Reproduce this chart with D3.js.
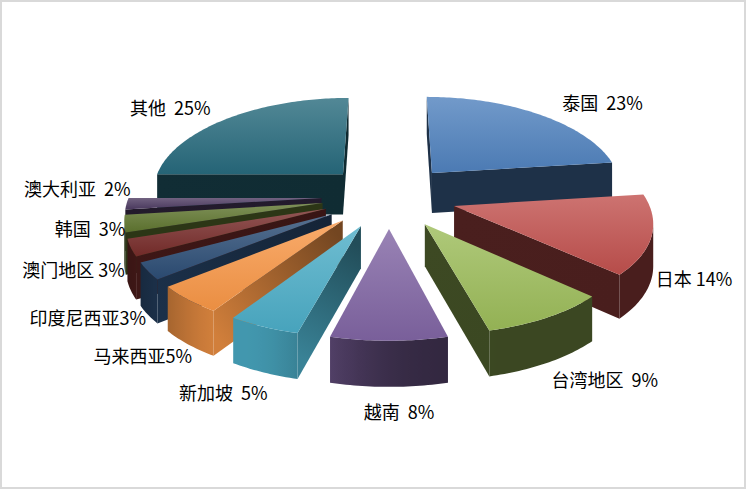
<!DOCTYPE html>
<html>
<head>
<meta charset="utf-8">
<script src="https://cdn.jsdelivr.net/npm/d3@7"></script>
<style>
  html, body { margin: 0; padding: 0; background: #fff; }
  text { font-family: "Noto Sans CJK SC", "Noto Sans", sans-serif; }
</style>
</head>
<body>
<div id="chart"></div>
<script>
const categories = ["泰国", "日本", "台湾地区", "越南", "新加坡", "马来西亚", "印度尼西亚", "澳门地区", "韩国", "澳大利亚", "其他"]
const values = [23, 14, 9, 8, 5, 5, 3, 3, 3, 2, 25]
const labels = ["泰国  23%", "日本 14%", "台湾地区  9%", "越南  8%", "新加坡  5%", "马来西亚5%", "印度尼西亚3%", "澳门地区 3%", "韩国  3%", "澳大利亚  2%", "其他  25%"]
const colors = ["#4F81BD", "#C0504D", "#9BBB59", "#8064A2", "#4BACC6", "#F79646", "#2C4D75", "#772C2A", "#5F7530", "#4D3B62", "#276A7C"]

const width = 746
const height = 489

const svg = d3.select("#chart").append("svg").attr("width", width).attr("height", height)
const defs = svg.append("defs")

// chart border
svg.append("rect")
  .attr("x", 1).attr("y", 1).attr("width", width - 2).attr("height", height - 2)
  .attr("fill", "#fff").attr("stroke", "#d9d9d9").attr("stroke-width", 2)

// pseudo perspective camera (pie lies flat, z towards the viewer)
const cx = 389, cy = 196
const R = 1, explode = 0.35
const thick = 40.9
const fx = 1347, dx = 7.0, fy = 766.5, dy = 8.5, dh = 11.87

function project(X, Z, down) {
  return [cx + fx * X / (dx - Z), cy + fy * Z / (dy - Z) + down * thick * dh / (dh - Z)]
}

const pie = d3.pie().sort(null).value((d) => d)
const arcs = pie(values)
arcs.forEach((a, i) => {
  a.i = i
  a.mid = (a.startAngle + a.endAngle) / 2
  a.ox = explode * Math.sin(a.mid)
  a.oz = -explode * Math.cos(a.mid)
})

// point of a slice at angle / radius, down = 0 top, 1 bottom
function pt(a, ang, r, down) {
  return project(a.ox + r * Math.sin(ang), a.oz - r * Math.cos(ang), down)
}

function area(p) {
  let s = 0
  for (let i = 0; i < p.length; i++) {
    const q = p[(i + 1) % p.length]
    s += p[i][0] * q[1] - q[0] * p[i][1]
  }
  return s
}

// side faces get lighter towards the front left
function shade(base, p) {
  const d2 = (p[0] - 240) ** 2 + (p[1] - 345) ** 2
  const k = 0.38 + 0.5 * Math.exp(-d2 / (110 * 110))
  const c = d3.rgb(base)
  return d3.rgb(c.r * k, c.g * k, c.b * k).formatHex()
}

const line = d3.line().curve(d3.curveLinearClosed)
const mean = (pts) => [d3.mean(pts, (p) => p[0]), d3.mean(pts, (p) => p[1])]

// back to front
const order = arcs.slice().sort((a, b) => {
  const za = a.oz - 0.5 * Math.cos(a.mid)
  const zb = b.oz - 0.5 * Math.cos(b.mid)
  return za - zb
})

const pieG = svg.append("g")
const step = Math.PI / 180
const hulls = []

order.forEach((a) => {
  const base = colors[a.i]
  const g = pieG.append("g")
  const n = Math.max(2, Math.ceil((a.endAngle - a.startAngle) / step))
  const angs = d3.range(n + 1).map((j) => a.startAngle + (a.endAngle - a.startAngle) * j / n)
  const topPts = angs.map((t) => pt(a, t, R, 0))
  const botPts = angs.map((t) => pt(a, t, R, 1))

  hulls.push(d3.polygonHull(topPts.concat(botPts, [pt(a, 0, 0, 0), pt(a, 0, 0, 1)])))

  // radial faces
  const sFace = [pt(a, a.startAngle, 0, 0), pt(a, a.startAngle, R, 0), pt(a, a.startAngle, R, 1), pt(a, a.startAngle, 0, 1)]
  const eFace = [pt(a, a.endAngle, 0, 0), pt(a, a.endAngle, 0, 1), pt(a, a.endAngle, R, 1), pt(a, a.endAngle, R, 0)]
  ;[sFace, eFace].forEach((f, k) => {
    if (area(f) >= 0) return
    const inner = mean([f[0], k === 0 ? f[3] : f[1]])
    const outer = mean([f[k === 0 ? 1 : 2], f[k === 0 ? 2 : 3]])
    const id = `rf${a.i}_${k}`
    const grad = defs.append("linearGradient").attr("id", id)
      .attr("gradientUnits", "userSpaceOnUse")
      .attr("x1", inner[0]).attr("y1", inner[1]).attr("x2", outer[0]).attr("y2", outer[1])
    grad.append("stop").attr("offset", 0).attr("stop-color", shade(base, inner))
    grad.append("stop").attr("offset", 1).attr("stop-color", shade(base, outer))
    g.append("path").attr("d", line(f)).attr("fill", `url(#${id})`)
  })

  // outer wall: the run of strips facing the camera
  const vis = d3.range(n).filter((j) => area([topPts[j], topPts[j + 1], botPts[j + 1], botPts[j]]) < 0)
  if (vis.length) {
    const j0 = d3.min(vis), j1 = d3.max(vis) + 1
    const wall = topPts.slice(j0, j1 + 1).concat(botPts.slice(j0, j1 + 1).reverse())
    const xa = topPts[j0][0], xb = topPts[j1][0]
    const id = `wall${a.i}`
    const grad = defs.append("linearGradient").attr("id", id)
      .attr("gradientUnits", "userSpaceOnUse")
      .attr("x1", xa).attr("y1", 0).attr("x2", Math.abs(xb - xa) < 1 ? xa + 1 : xb).attr("y2", 0)
    for (let j = j0; j <= j1; j++) {
      const off = Math.abs(xb - xa) < 1 ? 0 : Math.max(0, Math.min(1, (topPts[j][0] - xa) / (xb - xa)))
      grad.append("stop").attr("offset", off)
        .attr("stop-color", shade(base, mean([topPts[j], botPts[j]])))
    }
    g.append("path").attr("d", line(wall)).attr("fill", `url(#${id})`)
  }

  // top face
  const top = [pt(a, a.startAngle, 0, 0)].concat(topPts)
  const tid = `top${a.i}`
  const tg = defs.append("linearGradient").attr("id", tid)
    .attr("x1", 0).attr("y1", 0).attr("x2", 0).attr("y2", 1)
  tg.append("stop").attr("offset", 0).attr("stop-color", d3.interpolateRgb(base, "#fff")(0.2))
  tg.append("stop").attr("offset", 1).attr("stop-color", d3.rgb(base).darker(0.15))
  g.append("path").attr("d", line(top)).attr("fill", `url(#${tid})`)
})

// data labels
const labelData = arcs.map((a) => {
  const c = Math.cos(a.mid)
  const isLeft = Math.sin(a.mid) < 0
  let p
  if (c < 0) {
    const down = isLeft ? Math.min(1, 3 * c * c) : 1
    p = pt(a, a.mid, R, down)
    p[1] += 26 * Math.pow(-c, 2.5)
  } else {
    p = pt(a, a.mid, R + 0.2, 0)
  }
  let anchor = "middle"
  if (p[0] > cx + 25) anchor = "start"
  else if (p[0] < cx - 25) anchor = "end"
  return { text: labels[a.i], x: p[0] + (anchor === "middle" ? 10 : 4), y: p[1], anchor }
})

const labelG = svg.append("g")
const texts = labelG.selectAll("text").data(labelData).enter().append("text")
  .attr("dy", "0.35em")
  .attr("text-anchor", (d) => d.anchor)
  .attr("font-size", 18)
  .attr("fill", "#000")
  .style("white-space", "pre")
  .text((d) => d.text)
texts.each(function (d) { d.w = this.getComputedTextLength() })

function box(d, x, y) {
  const x0 = d.anchor === "end" ? x - d.w : d.anchor === "middle" ? x - d.w / 2 : x
  return [x0, y - 8, x0 + d.w, y + 8]
}
function hitsPie(b) {
  for (let x = b[0]; x <= b[2]; x += 3) {
    for (let y = b[1]; y <= b[3]; y += 3) {
      if (hulls.some((h) => d3.polygonContains(h, [x, y]))) return true
    }
  }
  return false
}
function hitsLabels(b, others) {
  return others.some((o) => b[0] < o[2] + 4 && b[2] > o[0] - 4 && b[1] < o[3] + 12 && b[3] > o[1] - 12)
}

// left-hand labels: spread them, then move clear of the slices
const left = labelData.filter((d) => d.anchor === "end").sort((a, b) => b.y - a.y)
for (let i = 1; i < left.length; i++) left[i].y = Math.min(left[i].y, left[i - 1].y - 30)
left.slice().reverse().forEach((d) => {
  if (!hitsPie(box(d, d.x, d.y))) return
  const others = labelData.filter((o) => o !== d).map((o) => box(o, o.x, o.y))
  for (let k = 1; k <= 70; k++) {
    const b = box(d, d.x, d.y - k)
    if (hitsLabels(b, others)) break
    if (!hitsPie(b)) { d.y -= k; return }
  }
  for (let m = 1; m <= 60; m++) {
    const b = box(d, d.x - m, d.y)
    if (!hitsPie(b)) { d.x -= m; return }
  }
})

texts.attr("x", (d) => d.x).attr("y", (d) => d.y)
</script>
</body>
</html>
